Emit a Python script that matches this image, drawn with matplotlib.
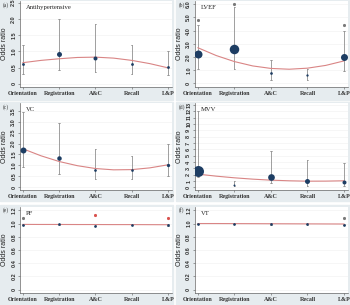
import matplotlib
matplotlib.use("Agg")
import matplotlib.pyplot as plt
from matplotlib.patches import Rectangle

W, H = 350, 305
PANEL_BG = "#e6ecef"
DOT = "#1d3d63"
CI = "#8f8f8f"
FIT = "#d98585"
SERIF = ["Liberation Serif", "DejaVu Serif"]
SANS = ["Liberation Sans", "DejaVu Sans"]

categories = ["Orientation", "Registration", "A&C", "Recall", "L&P"]
fit_x = [1, 1.5, 2, 2.5, 3, 3.5, 4, 4.5, 5]

# (a) Antihypertensive
a_or = [0.62, 0.92, 0.79, 0.61, 0.52]
a_lo = [0.31, 0.43, 0.35, 0.31, 0.26]
a_hi = [1.18, 2.01, 1.84, 1.20, 1.00]
a_w = [2.8, 5.0, 4.0, 2.8, 2.8]
a_fit = [0.65, 0.72, 0.77, 0.81, 0.82, 0.79, 0.72, 0.62, 0.49]
a_ticks = [0, 0.5, 1.0, 1.5, 2.0, 2.5]
a_ticklabels = ["0", "0.5", "1.0", "1.5", "2.0", "2.5"]

# (b) LVEF
b_or = [2.25, 2.6, 0.75, 0.6, 2.0]
b_lo = [1.1, 1.1, 0.25, 0.25, 0.95]
b_hi = [4.4, 5.8, 1.8, 1.1, 4.0]
b_w = [8.0, 9.5, 2.7, 2.3, 7.0]
b_fit = [2.70, 2.11, 1.65, 1.32, 1.13, 1.07, 1.15, 1.36, 1.70]
b_mark_x = [1, 2, 5]
b_mark_y = [4.8, 6.05, 4.45]
b_ticks = [0, 1, 2, 3, 4, 5, 6]
b_ticklabels = ["0", "1.0", "2.0", "3.0", "4.0", "5.0", "6.0"]

# (c) VC
c_or = [1.72, 1.33, 0.80, 0.77, 1.04]
c_lo = [0.95, 0.62, 0.37, 0.38, 0.52]
c_hi = [3.45, 2.96, 1.76, 1.42, 2.0]
c_w = [6.0, 4.5, 2.7, 2.7, 3.3]
c_fit = [1.76, 1.44, 1.18, 0.99, 0.86, 0.80, 0.81, 0.89, 1.03]
c_ticks = [0, 0.5, 1.0, 1.5, 2.0, 2.5, 3.0, 3.5]
c_ticklabels = ["0", "0.5", "1.0", "1.5", "2.0", "2.5", "3.0", "3.5"]

# (d) MVV
d_or = [2.6, 0.37, 1.7, 1.0, 0.85]
d_lo = [1.6, 0.2, 0.63, 0.3, 0.3]
d_hi = [12.0, 1.0, 5.7, 4.3, 3.9]
d_w = [11.0, 2.0, 6.7, 5.0, 4.0]
d_fit = [2.10, 1.78, 1.52, 1.31, 1.15, 1.05, 0.99, 1.00, 1.05]
d_ticks = list(range(0, 14))
d_ticklabels = [str(t) for t in d_ticks]

# (e) PF
e_or = [0.985, 0.99, 0.97, 0.985, 0.98]
e_lo = [0.975, 0.98, 0.96, 0.975, 0.97]
e_hi = [0.995, 1.0, 0.98, 0.995, 0.99]
e_w = [2.7, 2.7, 2.7, 2.7, 2.7]
e_fit = [0.987, 0.986, 0.986, 0.985, 0.985, 0.984, 0.984, 0.983, 0.982]
e_mark_x = [1, 3, 5]
e_mark_y = [1.09, 1.13, 1.08]
e_mark_red = [False, True, True]
e_ticks = [0, 0.2, 0.4, 0.6, 0.8, 1.0, 1.2]
e_ticklabels = ["0", "0.2", "0.4", "0.6", "0.8", "1.0", "1.2"]

# (f) VT
f_or = [1.0, 1.0, 0.995, 0.995, 0.985]
f_lo = [0.99, 0.99, 0.985, 0.985, 0.975]
f_hi = [1.01, 1.01, 1.005, 1.005, 0.995]
f_w = [2.7, 2.7, 2.7, 2.7, 2.7]
f_fit = [1.0, 1.0, 0.999, 0.998, 0.997, 0.996, 0.995, 0.994, 0.993]
f_mark_x = [5]
f_mark_y = [1.09]
f_mark_red = [False]

fig = plt.figure(figsize=(W / 100, H / 100), dpi=100)
fig.patch.set_facecolor("white")


def fr(x0, y0, x1, y1):
    return [x0 / W, 1 - y1 / H, (x1 - x0) / W, (y1 - y0) / H]


def panel(box, axbox, letter, title, orv, lo, hi, wts, fit, ylim, ticks, ticklabels,
          mark_x=None, mark_y=None, mark_red=None):
    x0, y0, x1, y1 = box
    fig.add_artist(Rectangle((x0 / W, 1 - y1 / H), (x1 - x0) / W, (y1 - y0) / H,
                             transform=fig.transFigure, color=PANEL_BG, zorder=0))
    fig.text((x0 + 3) / W, 1 - (y0 + 5) / H, letter, fontsize=4, family=SERIF,
             color="#333333", va="center", ha="left")
    ax = fig.add_axes(fr(*axbox))
    ax.set_facecolor("white")
    xs = range(1, len(categories) + 1)

    for y in ticks:
        ax.axhline(y, color="#f0f0f0", lw=0.4, zorder=0)

    ax.plot(fit_x, fit, color=FIT, lw=0.8, zorder=2)
    for x, l, h in zip(xs, lo, hi):
        ax.plot([x, x], [l, h], color=CI, lw=0.6, zorder=1)
        ax.plot([x - 0.02, x + 0.02], [l, l], color=CI, lw=0.5, zorder=1)
        ax.plot([x - 0.02, x + 0.02], [h, h], color=CI, lw=0.5, zorder=1)
    for x, v, w in zip(xs, orv, wts):
        ax.plot(x, v, "o", ms=w * 0.72, color=DOT, mec=DOT, mew=0, zorder=3)
    if mark_x:
        for x, y, red in zip(mark_x, mark_y, mark_red):
            c = "#d9534f" if red else "#7a7a7a"
            ax.plot(x, y, marker=(6, 2, 0), ms=2.2, color=c, mew=0.5, zorder=3)

    ax.text(0.04, 0.93, title, transform=ax.transAxes, fontsize=4.8, family=SERIF,
            va="center", ha="left", color="#222222")

    ax.set_xlim(0.92, 5.11)
    ax.set_ylim(*ylim)
    ax.set_xticks(list(xs))
    ax.set_xticklabels(categories, fontsize=4.3, family=SERIF, fontweight="bold")
    ax.set_yticks(ticks)
    ax.set_yticklabels(ticklabels, fontsize=4, family=SANS, fontweight="bold",
                       rotation=90, va="center")
    ax.tick_params(axis="both", length=1.5, width=0.4, color="#555555",
                   labelcolor="#333333", pad=1.2)
    for s in ["top", "right"]:
        ax.spines[s].set_visible(False)
    for s in ["left", "bottom"]:
        ax.spines[s].set_linewidth(0.5)
        ax.spines[s].set_color("#666666")
    ax.set_ylabel("Odds ratio", fontsize=5, family=SANS, labelpad=2, color="#222222")
    return ax


rows = [(0, 100, 1, 87), (102, 201, 103, 190), (205, 305, 207, 293)]
cols = [(0, 173, 20, 172), (176, 350, 195, 348)]

def boxes(r, c):
    gy0, gy1, ay0, ay1 = rows[r]
    gx0, gx1, ax0, ax1 = cols[c]
    return (gx0, gy0, gx1, gy1), (ax0, ay0, ax1, ay1)

bx, ab = boxes(0, 0)
panel(bx, ab, "(a)", "Antihypertensive", a_or, a_lo, a_hi, a_w, a_fit,
      (-0.1, 2.55), a_ticks, a_ticklabels)
bx, ab = boxes(0, 1)
panel(bx, ab, "(b)", "LVEF", b_or, b_lo, b_hi, b_w, b_fit,
      (-0.28, 6.25), b_ticks, b_ticklabels, b_mark_x, b_mark_y, [False] * 3)
bx, ab = boxes(1, 0)
panel(bx, ab, "(c)", "VC", c_or, c_lo, c_hi, c_w, c_fit,
      (-0.12, 3.85), c_ticks, c_ticklabels)
bx, ab = boxes(1, 1)
panel(bx, ab, "(d)", "MVV", d_or, d_lo, d_hi, d_w, d_fit,
      (-0.4, 13.3), d_ticks, d_ticklabels)
bx, ab = boxes(2, 0)
panel(bx, ab, "(e)", "PF", e_or, e_lo, e_hi, e_w, e_fit,
      (-0.05, 1.25), e_ticks, e_ticklabels, e_mark_x, e_mark_y, e_mark_red)
bx, ab = boxes(2, 1)
panel(bx, ab, "(f)", "VT", f_or, f_lo, f_hi, f_w, f_fit,
      (-0.05, 1.25), e_ticks, e_ticklabels, f_mark_x, f_mark_y, f_mark_red)

fig.savefig("out.png", dpi=100, facecolor="white")
